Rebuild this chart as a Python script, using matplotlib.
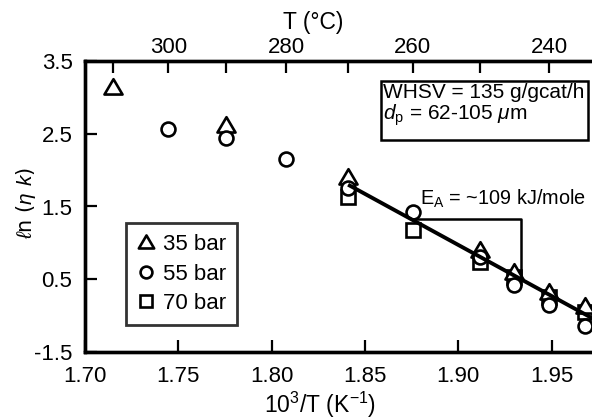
import numpy as np
import matplotlib
matplotlib.use("Agg")
import matplotlib.pyplot as plt
from matplotlib.patches import Rectangle
from matplotlib.path import Path

plt.rcParams['font.family'] = ['Liberation Sans', 'DejaVu Sans']
plt.rcParams['mathtext.fontset'] = 'custom'
plt.rcParams['mathtext.rm'] = 'Liberation Sans'
plt.rcParams['mathtext.it'] = 'Liberation Sans:italic'

# ---------------- data ----------------
t35 = [310, 290, 270, 250, 245, 240, 235]
v35 = [3.14, 2.62, 1.91, 0.90, 0.60, 0.32, 0.13]
t55 = [300, 290, 280, 270, 260, 250, 245, 240, 235]
v55 = [2.57, 2.44, 2.15, 1.76, 1.42, 0.81, 0.42, 0.15, -0.14]
t70 = [270, 260, 250, 245, 240, 235]
v70 = [1.63, 1.18, 0.74, 0.53, 0.26, 0.05]

fit_x = [1.841, 1.975]
fit_y = [1.80, -0.08]
bracket_x = [1.876, 1.9335, 1.9335]
bracket_y = [1.33, 1.33, 0.50]

xticks = [1.70, 1.75, 1.80, 1.85, 1.90, 1.95]
xticklabels = ['1.70', '1.75', '1.80', '1.85', '1.90', '1.95']
yticks = [-0.5, 0.5, 1.5, 2.5, 3.5]
yticklabels = ['-1.5', '0.5', '1.5', '2.5', '3.5']
top_major_T = [300, 280, 260, 240]
top_minor_T = [310, 290, 270, 250]


def inv(tc):
    return 1000.0 / (np.asarray(tc, dtype=float) + 273.15)


# ---------------- figure ----------------
W, H = 592, 419
fig = plt.figure(figsize=(W / 100, H / 100), dpi=100)
xmin, xmax = 1.70, 1.98
kpx = 1866.0
left_px, top_px, bot_px = 85, 61, 352
ax = fig.add_axes([left_px / W, (H - bot_px) / H, (xmax - xmin) * kpx / W, (bot_px - top_px) / H])
ax.set_xlim(xmin, xmax)
ax.set_ylim(-0.5, 3.5)

tri = Path([(-1, -0.78), (1, -0.78), (0, 0.92), (-1, -0.78)],
           [Path.MOVETO, Path.LINETO, Path.LINETO, Path.CLOSEPOLY])

mk = dict(color='black', mfc='white', mec='black', linestyle='none', mew=1.9)
l70, = ax.plot(inv(t70), v70, marker='s', ms=9.5, zorder=3, label='70 bar', **mk)
l35, = ax.plot(inv(t35), v35, marker=tri, ms=13, zorder=4, label='35 bar', **mk)
l55, = ax.plot(inv(t55), v55, marker='o', ms=10, zorder=5, label='55 bar', **mk)

ax.plot(fit_x, fit_y, color='black', lw=2.8, zorder=6, solid_capstyle='butt')
ax.plot(bracket_x, bracket_y, color='black', lw=1.8, zorder=6)
ax.text(1.8795, 1.52, r'E$_\mathregular{A}$ = ~109 kJ/mole', fontsize=14.3,
        ha='left', va='baseline', zorder=7)

for s in ax.spines.values():
    s.set_linewidth(2.4)
ax.set_xticks(xticks, xticklabels)
ax.set_yticks(yticks, yticklabels)
ax.tick_params(axis='both', which='both', direction='in', length=8.5, width=1.6,
               labelsize=16, top=False, right=False)
ax.tick_params(axis='x', pad=10)
ax.tick_params(axis='y', pad=9)

ax2 = ax.twiny()
ax2.set_xlim(xmin, xmax)
ax2.set_xticks(inv(top_major_T), [str(t) for t in top_major_T])
ax2.set_xticks(inv(top_minor_T), minor=True)
ax2.tick_params(axis='x', which='both', direction='in', length=8.5, width=1.6,
                labelsize=16, pad=2)
for s in ax2.spines.values():
    s.set_linewidth(2.4)

# axis labels
fig.text(320 / W, 1 - 405 / H, r'10$^\mathregular{3}$/T (K$^\mathregular{-1}$)', fontsize=16.5,
         ha='center', va='center')
fig.text(313 / W, 1 - 22 / H, 'T (°C)', fontsize=16.5, ha='center', va='center')
fig.text(26 / W, 1 - 203 / H, r'$\ell$n ($\eta$ $k$)', fontsize=15, rotation=90,
         ha='center', va='center', family=['DejaVu Sans'])

# info box
fig.patches.append(Rectangle((381 / W, 1 - 140 / H), (588 - 381) / W, (140 - 81) / H,
                             transform=fig.transFigure, fill=False, lw=1.8,
                             edgecolor='black'))
fig.text(383 / W, 1 - 98 / H, 'WHSV = 135 g/gcat/h', fontsize=15, ha='left', va='baseline')
fig.text(383 / W, 1 - 120 / H, r'$d_\mathregular{p}$ = 62-105 $\mu$m', fontsize=15,
         ha='left', va='baseline')

# legend
leg = ax.legend(handles=[l35, l55, l70], loc='upper left',
                bbox_to_anchor=(126 / W, 1 - 223 / H), bbox_transform=fig.transFigure,
                fontsize=16, frameon=True, fancybox=False, edgecolor='black',
                borderpad=0.5, labelspacing=0.38, handlelength=0.8, handletextpad=0.35,
                borderaxespad=0, markerscale=0.85)
leg.get_frame().set_linewidth(2.0)
leg.set_zorder(10)

fig.savefig('out.png', dpi=100)
